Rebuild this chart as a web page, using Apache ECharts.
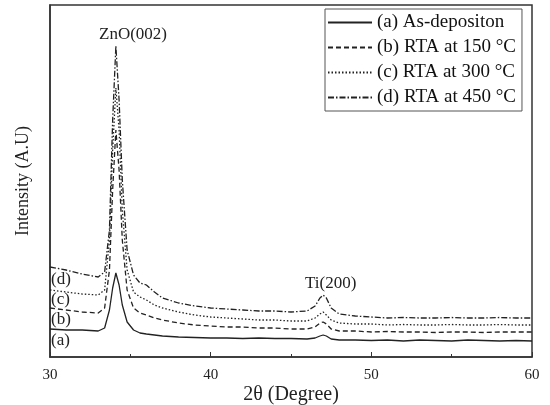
<!DOCTYPE html>
<html><head><meta charset="utf-8">
<script src="https://cdn.jsdelivr.net/npm/echarts@6/dist/echarts.min.js"></script>
<style>html,body{margin:0;padding:0;background:#fff}#c{width:550px;height:405px}</style>
</head><body><div id="c"></div>
<script>
const xDeg = [30,31,32,33,33.4,33.7,33.9,34.1,34.3,34.5,34.8,35.2,35.6,36,36.5,37,38,39,40,41,42,43,44,45,46,46.5,46.8,47,47.2,47.5,48,49,50,51,52,53,54,55,56,57,58,59,60];
const seriesA = [28,27,27,26,29,47,69,84,72,52,35,27,24,23,22,21,20,19.5,19,19,18.5,19,18.5,18.5,18,19,21,22,21,18,17,17,16.5,17,16,17,16.5,16,17,16.5,16,16.5,16];
const seriesB = [49,47,45,44,49,87,167,227,187,117,67,49,44,42,39,37,34,32,31,30,30,29,29,28,28,30,34,35,33,28,26,26,25,25.5,25,25,24.5,25,25,24.5,25,25,25];
const seriesC = [67,65,63,62,67,117,207,269,227,147,87,65,60,57,52,49,45,42,40,39,38,37,37,36,36,39,43,45,42,37,34,33,33,32,32.5,32,32,32.5,32,32,32.5,32,32];
const seriesD = [90,87,83,80,85,127,237,311,257,177,107,82,74,72,65,59,54,51,49,48,47,46,46,45,46,51,59,62,59,49,43,41,40,39,39.5,39,39,39.5,39,39,39.5,39,39];
const names = ['(a) As-depositon','(b) RTA at 150 °C','(c) RTA at 300 °C','(d) RTA at 450 °C'];
const xTicks = [30,40,50,60];

const styles = [
  {type:'solid'},
  {type:[5,3]},
  {type:[1.5,2]},
  {type:[6,2,1.5,2]}
];
const data = [seriesA,seriesB,seriesC,seriesD];
const font = 'Liberation Serif';
const chart = echarts.init(document.getElementById('c'));
chart.setOption({
  animation:false,
  backgroundColor:'#fff',
  grid:{left:50,right:18,top:5,bottom:48,show:true,borderColor:'#333',borderWidth:1.5,backgroundColor:'transparent',
    containLabel:false,outerBoundsMode:'none'},
  xAxis:{type:'value',min:30,max:60,interval:10,
    name:'2θ (Degree)',nameLocation:'middle',nameGap:28,nameMoveOverlap:false,
    nameTextStyle:{fontFamily:font,fontSize:20,color:'#222'},
    axisLine:{show:true,lineStyle:{color:'#333',width:1.5}},
    axisTick:{show:true,inside:true,length:5,lineStyle:{color:'#333'}},
    minorTick:{show:true,splitNumber:2,length:3,lineStyle:{color:'#333'}},
    splitLine:{show:false},
    axisLabel:{fontFamily:font,fontSize:15,color:'#222',margin:11,
      formatter:v=>xTicks.includes(v)?String(v):''}
  },
  yAxis:{type:'value',min:0,max:352,
    name:'Intensity (A.U)',nameLocation:'middle',nameGap:18,nameMoveOverlap:false,
    nameTextStyle:{fontFamily:font,fontSize:18,color:'#222'},
    axisLine:{show:true,lineStyle:{color:'#333',width:1.5}},
    axisTick:{show:false},axisLabel:{show:false},splitLine:{show:false}},
  legend:{orient:'vertical',left:325,top:9,itemWidth:44,itemHeight:10,itemGap:6,
    padding:[4,6,4,2],borderColor:'#555',borderWidth:1,backgroundColor:'#fff',
    itemStyle:{opacity:0},
    textStyle:{fontFamily:font,fontSize:19,color:'#111'},
    data:names},
  series:data.map((d,i)=>({
    name:names[i],type:'line',showSymbol:false,symbol:'none',
    data:xDeg.map((x,j)=>[x,d[j]]),
    lineStyle:{color:'#222',width:1.3,type:styles[i].type},
    itemStyle:{color:'#222'}
  })),
  graphic:[
    {type:'text',left:99,top:26,style:{text:'ZnO(002)',font:'17px '+font,fill:'#222'}},
    {type:'text',left:305,top:275,style:{text:'Ti(200)',font:'17px '+font,fill:'#222'}},
    {type:'text',left:51,top:271,style:{text:'(d)',font:'17px '+font,fill:'#222'}},
    {type:'text',left:51,top:291,style:{text:'(c)',font:'17px '+font,fill:'#222'}},
    {type:'text',left:51,top:311,style:{text:'(b)',font:'17px '+font,fill:'#222'}},
    {type:'text',left:51,top:332,style:{text:'(a)',font:'17px '+font,fill:'#222'}}
  ]
});
</script></body></html>
